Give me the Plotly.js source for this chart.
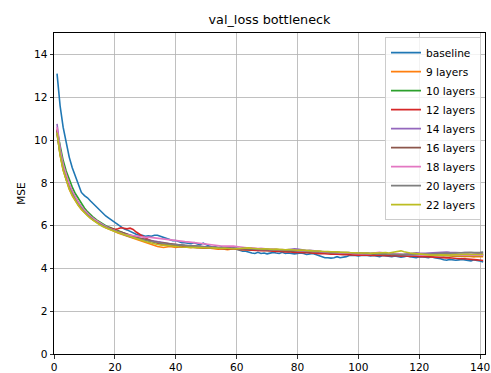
<!DOCTYPE html>
<html>
<head>
<meta charset="utf-8">
<script src="https://cdn.plot.ly/plotly-3.0.1.min.js"></script>
<style>html,body{margin:0;padding:0;background:#fff;}#chart{width:491px;height:373px;}</style>
</head>
<body>
<div id="chart"></div>
<script>
const seriesNames = ["baseline", "9 layers", "10 layers", "12 layers", "14 layers", "16 layers", "18 layers", "20 layers", "22 layers"];
const seriesColors = ["#1f77b4", "#ff7f0e", "#2ca02c", "#d62728", "#9467bd", "#8c564b", "#e377c2", "#7f7f7f", "#bcbd22"];

const baseline = [
 13.1, 11.6, 10.6, 9.8, 9.2, 8.7, 8.3, 7.9, 7.55, 7.4,
 7.3, 7.15, 7.0, 6.85, 6.7, 6.6, 6.45, 6.35, 6.25, 6.15,
 6.05, 5.95, 5.85, 5.8, 5.72, 5.65, 5.6, 5.55, 5.55, 5.5,
 5.52, 5.5, 5.55, 5.55, 5.5, 5.45, 5.4, 5.35, 5.3, 5.3,
 5.25, 5.2, 5.2, 5.18, 5.15, 5.2, 5.15, 5.1, 5.18, 5.1,
 5.05, 5.0, 5.0, 4.95, 5.0, 4.95, 4.9, 4.9, 4.95, 4.9,
 4.85, 4.8, 4.8, 4.75, 4.72, 4.7, 4.75, 4.7, 4.72, 4.68,
 4.7, 4.75, 4.72, 4.7, 4.75, 4.7, 4.72, 4.7, 4.68, 4.7,
 4.72, 4.7, 4.65, 4.68, 4.7, 4.65, 4.6, 4.55, 4.5, 4.5,
 4.48, 4.5, 4.55, 4.5, 4.52, 4.55, 4.6, 4.62, 4.6, 4.58,
 4.6, 4.62, 4.6, 4.58, 4.6, 4.58, 4.55, 4.6, 4.58, 4.55,
 4.55, 4.58, 4.55, 4.52, 4.55, 4.58, 4.55, 4.52, 4.5, 4.55,
 4.55, 4.52, 4.5, 4.55, 4.5, 4.48, 4.45, 4.4, 4.38, 4.42,
 4.4, 4.38, 4.4, 4.42, 4.4, 4.38, 4.35, 4.4, 4.38, 4.35, 4.3
];
const layers9 = [
 10.3, 9.3, 8.6, 8.1, 7.7, 7.4, 7.15, 6.95, 6.75, 6.6,
 6.45, 6.35, 6.25, 6.15, 6.05, 5.98, 5.9, 5.85, 5.8, 5.72,
 5.65, 5.6, 5.55, 5.5, 5.45, 5.4, 5.35, 5.3, 5.25, 5.2,
 5.15, 5.1, 5.05, 5.02, 5.0, 4.98, 5.0, 5.02, 5.0, 4.98,
 5.0, 5.02, 5.0, 4.98, 4.97, 5.0, 4.98, 4.96, 4.95, 4.97,
 4.95, 4.93, 4.92, 4.9, 4.92, 4.9, 4.88, 4.9, 4.92, 4.9,
 4.88, 4.87, 4.9, 4.88, 4.86, 4.85, 4.87, 4.85, 4.84, 4.86,
 4.85, 4.83, 4.82, 4.84, 4.82, 4.8, 4.82, 4.8, 4.78, 4.8,
 4.78, 4.77, 4.79, 4.76, 4.75, 4.77, 4.75, 4.73, 4.72, 4.74,
 4.72, 4.7, 4.72, 4.7, 4.68, 4.7, 4.72, 4.7, 4.68, 4.7,
 4.68, 4.7, 4.67, 4.66, 4.68, 4.66, 4.65, 4.67, 4.65, 4.64,
 4.66, 4.64, 4.63, 4.65, 4.63, 4.62, 4.64, 4.62, 4.6, 4.62,
 4.6, 4.62, 4.6, 4.58, 4.6, 4.62, 4.6, 4.58, 4.6, 4.58,
 4.57, 4.58, 4.56, 4.58, 4.55, 4.57, 4.55, 4.54, 4.56, 4.55, 4.55
];
const layers10 = [
 10.45, 9.7, 9.05, 8.55, 8.15, 7.8, 7.5, 7.25, 7.0, 6.82,
 6.65, 6.5, 6.38, 6.27, 6.17, 6.08, 6.0, 5.93, 5.87, 5.82,
 5.76, 5.7, 5.64, 5.58, 5.52, 5.48, 5.44, 5.4, 5.36, 5.33,
 5.3, 5.27, 5.24, 5.2, 5.18, 5.15, 5.12, 5.1, 5.08, 5.06,
 5.05, 5.03, 5.04, 5.02, 5.0, 4.99, 5.0, 4.98, 4.97, 4.98,
 4.96, 4.95, 4.97, 4.95, 4.93, 4.94, 4.92, 4.93, 4.9, 4.91,
 4.9, 4.88, 4.89, 4.87, 4.88, 4.86, 4.87, 4.85, 4.86, 4.84,
 4.85, 4.83, 4.84, 4.82, 4.83, 4.81, 4.8, 4.82, 4.8, 4.79,
 4.8, 4.78, 4.77, 4.78, 4.76, 4.75, 4.76, 4.74, 4.73, 4.72,
 4.7, 4.69, 4.7, 4.68, 4.67, 4.68, 4.7, 4.69, 4.68, 4.7,
 4.69, 4.68, 4.7, 4.68, 4.67, 4.66, 4.68, 4.66, 4.65, 4.66,
 4.65, 4.64, 4.65, 4.63, 4.64, 4.62, 4.63, 4.62, 4.61, 4.62,
 4.6, 4.61, 4.62, 4.6, 4.61, 4.6, 4.62, 4.61, 4.6, 4.62,
 4.61, 4.62, 4.6, 4.62, 4.61, 4.6, 4.62, 4.6, 4.61, 4.6, 4.6
];
const layers12 = [
 10.5, 9.5, 8.8, 8.3, 7.9, 7.55, 7.3, 7.05, 6.85, 6.68,
 6.52, 6.4, 6.3, 6.2, 6.1, 6.02, 5.95, 5.9, 5.85, 5.82,
 5.85, 5.9, 5.88, 5.85, 5.88, 5.82, 5.7, 5.6, 5.5, 5.42,
 5.35, 5.28, 5.22, 5.18, 5.12, 5.1, 5.08, 5.06, 5.05, 5.03,
 5.02, 5.0, 5.02, 5.0, 4.98, 4.99, 4.97, 4.98, 4.96, 4.95,
 4.96, 4.94, 4.95, 4.93, 4.92, 4.93, 4.9, 4.91, 4.89, 4.9,
 4.88, 4.87, 4.88, 4.86, 4.85, 4.86, 4.84, 4.83, 4.84, 4.82,
 4.8, 4.81, 4.79, 4.8, 4.78, 4.77, 4.78, 4.76, 4.75, 4.76,
 4.74, 4.73, 4.74, 4.72, 4.7, 4.71, 4.69, 4.7, 4.68, 4.67,
 4.66, 4.67, 4.65, 4.66, 4.64, 4.65, 4.63, 4.64, 4.62, 4.63,
 4.62, 4.63, 4.61, 4.62, 4.6, 4.62, 4.6, 4.61, 4.59, 4.6,
 4.58, 4.6, 4.58, 4.57, 4.59, 4.57, 4.56, 4.58, 4.56, 4.55,
 4.56, 4.55, 4.53, 4.55, 4.53, 4.52, 4.5, 4.51, 4.49, 4.5,
 4.48, 4.47, 4.45, 4.46, 4.44, 4.42, 4.43, 4.41, 4.4, 4.38, 4.37
];
const layers14 = [
 10.75, 9.6, 8.85, 8.3, 7.9, 7.55, 7.28, 7.05, 6.85, 6.7,
 6.55, 6.42, 6.3, 6.2, 6.1, 6.02, 5.95, 5.88, 5.82, 5.77,
 5.7, 5.65, 5.6, 5.55, 5.5, 5.46, 5.43, 5.4, 5.37, 5.35,
 5.33, 5.3, 5.28, 5.25, 5.23, 5.2, 5.18, 5.15, 5.13, 5.12,
 5.1, 5.08, 5.07, 5.06, 5.05, 5.04, 5.03, 5.02, 5.01, 5.0,
 4.99, 5.0, 4.98, 4.97, 4.98, 4.96, 4.95, 4.96, 4.94, 4.95,
 4.93, 4.92, 4.94, 4.92, 4.9, 4.91, 4.89, 4.9, 4.88, 4.89,
 4.87, 4.88, 4.86, 4.87, 4.85, 4.86, 4.88, 4.9, 4.92, 4.9,
 4.87, 4.85, 4.83, 4.84, 4.82, 4.8, 4.81, 4.79, 4.78, 4.77,
 4.76, 4.75, 4.74, 4.75, 4.73, 4.72, 4.73, 4.71, 4.7, 4.71,
 4.7, 4.69, 4.7, 4.68, 4.69, 4.67, 4.68, 4.66, 4.67, 4.66,
 4.65, 4.66, 4.64, 4.65, 4.66, 4.68, 4.7, 4.72, 4.73, 4.72,
 4.7, 4.71, 4.72, 4.73, 4.74, 4.75, 4.74, 4.75, 4.76, 4.75,
 4.74, 4.75, 4.74, 4.73, 4.74, 4.72, 4.73, 4.72, 4.71, 4.72, 4.7
];
const layers16 = [
 10.4, 9.4, 8.7, 8.2, 7.82, 7.5, 7.25, 7.02, 6.82, 6.65,
 6.5, 6.38, 6.27, 6.17, 6.08, 6.0, 5.94, 5.88, 5.83, 5.78,
 5.73, 5.7, 5.66, 5.62, 5.57, 5.52, 5.47, 5.42, 5.38, 5.34,
 5.3, 5.27, 5.24, 5.22, 5.2, 5.18, 5.16, 5.14, 5.12, 5.11,
 5.1, 5.08, 5.07, 5.06, 5.04, 5.05, 5.03, 5.02, 5.0, 5.01,
 4.99, 4.98, 4.99, 4.97, 4.96, 4.97, 4.95, 4.94, 4.95, 4.93,
 4.92, 4.93, 4.91, 4.9, 4.91, 4.89, 4.88, 4.89, 4.87, 4.86,
 4.87, 4.85, 4.86, 4.84, 4.83, 4.84, 4.82, 4.83, 4.81, 4.8,
 4.81, 4.79, 4.78, 4.79, 4.77, 4.76, 4.77, 4.75, 4.74, 4.75,
 4.73, 4.72, 4.73, 4.71, 4.7, 4.71, 4.72, 4.7, 4.71, 4.69,
 4.7, 4.68, 4.69, 4.67, 4.68, 4.66, 4.67, 4.65, 4.66, 4.65,
 4.64, 4.65, 4.63, 4.64, 4.62, 4.63, 4.64, 4.62, 4.63, 4.62,
 4.63, 4.64, 4.62, 4.63, 4.64, 4.65, 4.63, 4.64, 4.65, 4.64,
 4.65, 4.66, 4.64, 4.65, 4.66, 4.65, 4.64, 4.66, 4.65, 4.64, 4.65
];
const layers18 = [
 10.6, 9.55, 8.85, 8.35, 7.95, 7.6, 7.32, 7.08, 6.88, 6.72,
 6.56, 6.43, 6.32, 6.22, 6.12, 6.03, 5.95, 5.88, 5.82, 5.76,
 5.7, 5.65, 5.6, 5.57, 5.55, 5.52, 5.5, 5.48, 5.47, 5.45,
 5.46, 5.44, 5.45, 5.42, 5.4, 5.38, 5.36, 5.35, 5.33, 5.3,
 5.28, 5.27, 5.25, 5.24, 5.22, 5.2, 5.18, 5.17, 5.15, 5.14,
 5.12, 5.1, 5.08, 5.06, 5.05, 5.04, 5.05, 5.06, 5.04, 5.02,
 5.0, 4.98, 4.97, 4.95, 4.96, 4.94, 4.93, 4.94, 4.92, 4.9,
 4.89, 4.9, 4.88, 4.87, 4.88, 4.86, 4.85, 4.86, 4.84, 4.83,
 4.82, 4.83, 4.81, 4.8, 4.79, 4.8, 4.78, 4.77, 4.76, 4.75,
 4.74, 4.75, 4.73, 4.72, 4.73, 4.71, 4.72, 4.7, 4.69, 4.7,
 4.69, 4.7, 4.68, 4.69, 4.72, 4.74, 4.75, 4.73, 4.7, 4.68,
 4.67, 4.66, 4.68, 4.66, 4.65, 4.64, 4.65, 4.63, 4.64, 4.62,
 4.63, 4.62, 4.61, 4.62, 4.6, 4.61, 4.62, 4.6, 4.61, 4.62,
 4.63, 4.62, 4.64, 4.63, 4.62, 4.64, 4.63, 4.62, 4.64, 4.63, 4.62
];
const layers20 = [
 10.3, 9.35, 8.65, 8.15, 7.78, 7.45, 7.2, 6.98, 6.8, 6.64,
 6.5, 6.37, 6.26, 6.16, 6.07, 5.99, 5.92, 5.86, 5.8, 5.75,
 5.69, 5.64, 5.58, 5.53, 5.48, 5.44, 5.4, 5.37, 5.34, 5.31,
 5.28, 5.25, 5.23, 5.2, 5.18, 5.16, 5.14, 5.13, 5.11, 5.1,
 5.09, 5.07, 5.06, 5.05, 5.04, 5.03, 5.02, 5.0, 5.01, 4.99,
 4.98, 4.99, 4.97, 4.96, 4.97, 4.95, 4.96, 4.94, 4.95, 4.93,
 4.92, 4.94, 4.93, 4.91, 4.92, 4.9, 4.91, 4.89, 4.9, 4.88,
 4.89, 4.87, 4.88, 4.86, 4.87, 4.85, 4.86, 4.84, 4.85, 4.83,
 4.84, 4.82, 4.83, 4.81, 4.8, 4.81, 4.79, 4.78, 4.79, 4.77,
 4.76, 4.77, 4.75, 4.74, 4.75, 4.73, 4.74, 4.72, 4.73, 4.71,
 4.72, 4.7, 4.71, 4.69, 4.7, 4.68, 4.69, 4.67, 4.68, 4.66,
 4.67, 4.66, 4.65, 4.66, 4.64, 4.65, 4.66, 4.64, 4.65, 4.66,
 4.67, 4.68, 4.67, 4.68, 4.7, 4.69, 4.7, 4.71, 4.72, 4.71,
 4.72, 4.73, 4.72, 4.74, 4.73, 4.74, 4.75, 4.74, 4.76, 4.75, 4.76
];
const layers22 = [
 10.35, 9.3, 8.6, 8.1, 7.72, 7.4, 7.15, 6.94, 6.76, 6.6,
 6.46, 6.34, 6.23, 6.13, 6.04, 5.96, 5.89, 5.83, 5.78, 5.73,
 5.68, 5.63, 5.58, 5.53, 5.48, 5.43, 5.38, 5.34, 5.3, 5.26,
 5.22, 5.18, 5.15, 5.12, 5.1, 5.08, 5.06, 5.04, 5.03, 5.02,
 5.01, 5.0, 4.99, 5.0, 4.98, 4.99, 4.97, 4.98, 4.96, 4.97,
 4.95, 4.96, 4.94, 4.95, 4.93, 4.94, 4.92, 4.93, 4.91, 4.92,
 4.93, 4.95, 4.97, 4.96, 4.94, 4.92, 4.93, 4.91, 4.92, 4.9,
 4.91, 4.89, 4.9, 4.88, 4.89, 4.87, 4.88, 4.86, 4.87, 4.85,
 4.86, 4.84, 4.85, 4.83, 4.82, 4.83, 4.81, 4.8, 4.81, 4.79,
 4.78, 4.79, 4.77, 4.76, 4.77, 4.75, 4.74, 4.75, 4.73, 4.72,
 4.73, 4.71, 4.72, 4.7, 4.71, 4.7, 4.72, 4.73, 4.74, 4.72,
 4.74, 4.77, 4.8, 4.82, 4.78, 4.74, 4.72, 4.7, 4.68, 4.66,
 4.65, 4.64, 4.63, 4.62, 4.61, 4.62, 4.63, 4.62, 4.61, 4.62,
 4.63, 4.64, 4.63, 4.65, 4.64, 4.66, 4.65, 4.64, 4.66, 4.65, 4.66
];

const xTicks = [0, 20, 40, 60, 80, 100, 120, 140];
const yTicks = [0, 2, 4, 6, 8, 10, 12, 14];

const allSeries = [baseline, layers9, layers10, layers12, layers14, layers16, layers18, layers20, layers22];

const FONT = "DejaVu Sans, Liberation Sans, sans-serif";

const traces = allSeries.map((vals, k) => ({
  type: "scatter",
  mode: "lines",
  name: seriesNames[k],
  x: vals.map((_, i) => i + 1),
  y: vals,
  line: {color: seriesColors[k], width: 1.6},
  hoverinfo: "skip"
}));

const axisCommon = {
  showline: true, mirror: true, linecolor: "#000", linewidth: 1,
  ticks: "outside", ticklen: 3.5, tickwidth: 0.8, tickcolor: "#000",
  showgrid: true, gridcolor: "#b0b0b0", gridwidth: 0.8,
  zeroline: false,
  tickfont: {family: FONT, size: 10.6, color: "#000"},
  tickmode: "array"
};

const layout = {
  width: 491, height: 373,
  margin: {l: 54, r: 6, t: 33, b: 19, pad: 0},
  paper_bgcolor: "#fff", plot_bgcolor: "#fff",
  title: {text: "val_loss bottleneck", font: {family: FONT, size: 12.8, color: "#000"},
          x: 0.5, xref: "paper", y: 1 - 20 / 373, yref: "container", yanchor: "middle"},
  xaxis: Object.assign({}, axisCommon, {range: [0, 141.6], tickvals: xTicks, ticktext: xTicks.map(String)}),
  yaxis: Object.assign({}, axisCommon, {range: [0, 15], tickvals: yTicks, ticktext: yTicks.map(String),
          title: {text: "MSE", font: {family: FONT, size: 10.6, color: "#000"}, standoff: 6}}),
  legend: {x: 0.9907, y: 0.987, xanchor: "right", yanchor: "top",
           bgcolor: "rgba(255,255,255,0.8)", bordercolor: "#cccccc", borderwidth: 1,
           font: {family: FONT, size: 10.6, color: "#000"}},
  showlegend: true
};

Plotly.newPlot("chart", traces, layout, {staticPlot: true, displayModeBar: false});
</script>
</body>
</html>
